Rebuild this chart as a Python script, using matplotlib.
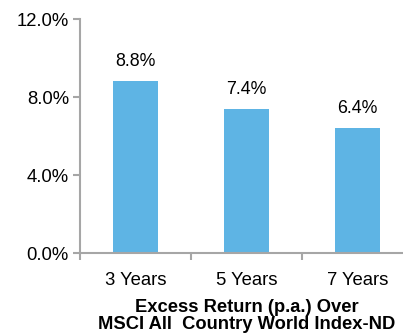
import matplotlib.pyplot as plt
from matplotlib.ticker import FuncFormatter

plt.rcParams['font.family'] = ['Liberation Sans', 'DejaVu Sans']

periods = ['3 Years', '5 Years', '7 Years']
excess = [8.8, 7.4, 6.4]
yticks = [0, 4, 8, 12]

grey = '#A6A6A6'
blue = '#5EB4E4'

fig = plt.figure(figsize=(4.03, 3.33), dpi=100)
# axes runs a little past the right edge, like the original
ax = fig.add_axes([80 / 403, 80 / 333, 333 / 403, 234 / 333])

x = list(range(len(periods)))
ax.bar(x, excess, width=0.4, color=blue)
for xi, v in zip(x, excess):
    ax.annotate(f'{v:.1f}%', (xi, v), xytext=(0, 8), textcoords='offset points',
                ha='center', va='bottom', fontsize=12.8)

ax.set_xlim(-0.5, 2.5)
ax.set_ylim(0, 12)
ax.set_yticks(yticks)
ax.yaxis.set_major_formatter(FuncFormatter(lambda v, p: f'{v:.1f}%'))
ax.set_xticks([-0.5, 0.5, 1.5])
ax.set_xticklabels([])
ax.set_xticks(x, minor=True)
ax.set_xticklabels(periods, minor=True)
ax.tick_params(axis='x', which='minor', length=0, pad=14, labelsize=13.3)
ax.tick_params(axis='x', which='major', length=5, width=1.5, color=grey, direction='out')
ax.tick_params(axis='y', length=5, width=1.5, color=grey, direction='out', labelsize=13.3, pad=3)

for s in ['top', 'right']:
    ax.spines[s].set_visible(False)
for s in ['left', 'bottom']:
    ax.spines[s].set_color(grey)
    ax.spines[s].set_linewidth(1.5)

ax.set_xlabel('Excess Return (p.a.) Over\nMSCI All  Country World Index-ND',
              fontsize=13.2, fontweight='bold', labelpad=7, linespacing=0.95)

fig.savefig('out.png', dpi=100)
